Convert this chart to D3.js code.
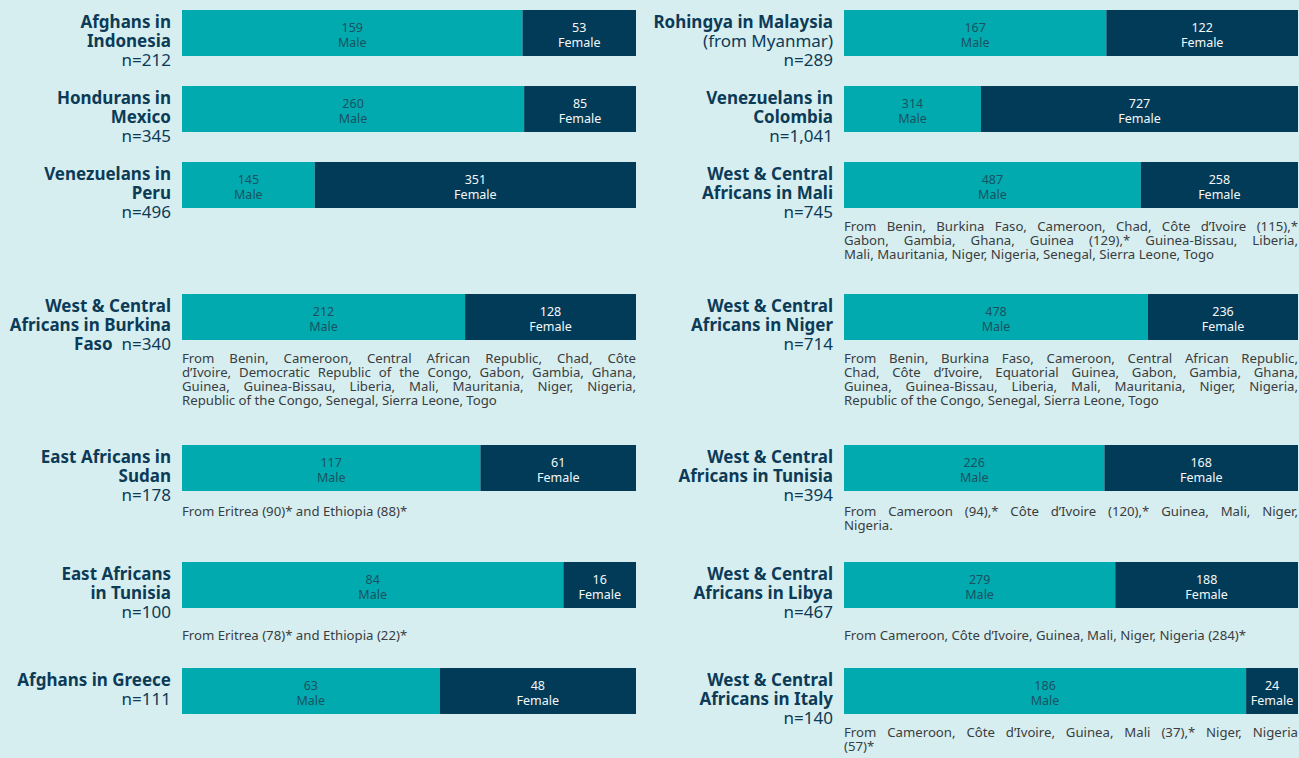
<!DOCTYPE html>
<html>
<head>
<meta charset="utf-8">
<script src="https://cdn.jsdelivr.net/npm/d3@7"></script>
<style>
  body { margin: 0; background: #d7eef0; }
  svg { display: block; font-family: "Noto Sans", sans-serif; }
</style>
</head>
<body>
<div class="chart"></div>
<script>
var totalWidth = 1299;
var totalHeight = 758;

// DATA STUFF
var titles = [
  ["Afghans in", "Indonesia"],
  ["Hondurans in", "Mexico"],
  ["Venezuelans in", "Peru"],
  ["West & Central", "Africans in Burkina", "Faso"],
  ["East Africans in", "Sudan"],
  ["East Africans", "in Tunisia"],
  ["Afghans in Greece"],
  ["Rohingya in Malaysia"],
  ["Venezuelans in", "Colombia"],
  ["West & Central", "Africans in Mali"],
  ["West & Central", "Africans in Niger"],
  ["West & Central", "Africans in Tunisia"],
  ["West & Central", "Africans in Libya"],
  ["West & Central", "Africans in Italy"]
];
var subtitles = ["", "", "", "", "", "", "", "(from Myanmar)", "", "", "", "", "", ""];
var nLabels = ["212", "345", "496", "340", "178", "100", "111",
               "289", "1,041", "745", "714", "394", "467", "140"];
var nInline = [false, false, false, true, false, false, false,
               false, false, false, false, false, false, false];
var maleCounts = [159, 260, 145, 212, 117, 84, 63, 167, 314, 487, 478, 226, 279, 186];
var femaleCounts = [53, 85, 351, 128, 61, 16, 48, 122, 727, 258, 236, 168, 188, 24];
var notes = [
  [], [], [],
  ["From Benin, Cameroon, Central African Republic, Chad, Côte",
   "d’Ivoire, Democratic Republic of the Congo, Gabon, Gambia, Ghana,",
   "Guinea, Guinea-Bissau, Liberia, Mali, Mauritania, Niger, Nigeria,",
   "Republic of the Congo, Senegal, Sierra Leone, Togo"],
  ["From Eritrea (90)* and Ethiopia (88)*"],
  ["From Eritrea (78)* and Ethiopia (22)*"],
  [],
  [], [],
  ["From Benin, Burkina Faso, Cameroon, Chad, Côte d’Ivoire (115),*",
   "Gabon, Gambia, Ghana, Guinea (129),* Guinea-Bissau, Liberia,",
   "Mali, Mauritania, Niger, Nigeria, Senegal, Sierra Leone, Togo"],
  ["From Benin, Burkina Faso, Cameroon, Central African Republic,",
   "Chad, Côte d’Ivoire, Equatorial Guinea, Gabon, Gambia, Ghana,",
   "Guinea, Guinea-Bissau, Liberia, Mali, Mauritania, Niger, Nigeria,",
   "Republic of the Congo, Senegal, Sierra Leone, Togo"],
  ["From Cameroon (94),* Côte d’Ivoire (120),* Guinea, Mali, Niger,",
   "Nigeria."],
  ["From Cameroon, Côte d’Ivoire, Guinea, Mali, Niger, Nigeria (284)*"],
  ["From Cameroon, Côte d’Ivoire, Guinea, Mali (37),* Niger, Nigeria",
   "(57)*"]
];
var genderLabels = ["Male", "Female"];

// LAYOUT
var barWidth = 454;
var barHeight = 46;
var rowTops = [10, 86, 162, 294, 445, 562, 668];
var noteGaps = [23, 23, 23, 23, 25, 32, 23];
var lineHeight = 14;
var noteSize = 13.2;

var colors = { male: "#01aaae", female: "#023b57", title: "#0c3b57", note: "#3a3d40" };

var rows = titles.map(function(t, i) {
  return {
    title: t, sub: subtitles[i], n: nLabels[i], inline: nInline[i],
    male: maleCounts[i], female: femaleCounts[i], note: notes[i],
    col: i < 7 ? 0 : 1, row: i % 7
  };
});

var colScale = d3.scaleOrdinal().domain([0, 1]).range([182, 844]);
var rowScale = d3.scaleOrdinal().domain(d3.range(7)).range(rowTops);

var svg = d3.select(".chart")
  .append("svg")
  .attr("width", totalWidth)
  .attr("height", totalHeight);

var groups = svg.selectAll("g.row")
  .data(rows)
  .enter()
  .append("g")
  .attr("class", "row")
  .attr("transform", function(d) {
    return "translate(" + colScale(d.col) + "," + rowScale(d.row) + ")";
  });

groups.each(function(d) {
  var g = d3.select(this);
  var x = d3.scaleLinear().domain([0, d.male + d.female]).range([0, barWidth]);

  var segs = [
    { key: "male", start: 0, value: d.male, label: genderLabels[0] },
    { key: "female", start: d.male, value: d.female, label: genderLabels[1] }
  ];

  g.selectAll("rect")
    .data(segs)
    .enter()
    .append("rect")
    .attr("x", function(s) { return x(s.start); })
    .attr("y", 0)
    .attr("width", function(s) { return x(s.start + s.value) - x(s.start); })
    .attr("height", barHeight)
    .attr("fill", function(s) { return colors[s.key]; });

  var lbl = g.selectAll("text.seg")
    .data(segs)
    .enter()
    .append("text")
    .attr("class", "seg")
    .attr("text-anchor", "middle")
    .attr("font-size", 12.5)
    .attr("fill", function(s) { return s.key == "male" ? "#1a5263" : "#f4f8fa"; });
  lbl.append("tspan")
    .attr("x", function(s) { return x(s.start + s.value / 2); })
    .attr("y", 22)
    .text(function(s) { return s.value; });
  lbl.append("tspan")
    .attr("x", function(s) { return x(s.start + s.value / 2); })
    .attr("y", 37)
    .text(function(s) { return s.label; });

  // title block
  var t = g.append("text")
    .attr("text-anchor", "end")
    .attr("font-size", 17)
    .attr("fill", colors.title);
  var lines = d.title.map(function(s) { return { text: s, bold: true }; });
  if (d.sub) lines.push({ text: d.sub, bold: false });
  if (!d.inline) lines.push({ text: "n=" + d.n, bold: false });
  lines.forEach(function(l, i) {
    t.append("tspan")
      .attr("x", -11)
      .attr("y", 17.5 + i * 19)
      .attr("font-weight", l.bold ? 700 : 400)
      .text(l.text);
    if (d.inline && i == lines.length - 1) {
      t.append("tspan").attr("font-weight", 400).text("\u00a0 n=" + d.n);
    }
  });

  // note block, every line but the last stretched to the bar width
  if (!d.note.length) return;
  var nt = g.append("text")
    .attr("class", "note")
    .attr("font-size", noteSize)
    .attr("fill", colors.note);
  d.note.forEach(function(line, i) {
    var ts = nt.append("tspan")
      .attr("x", 0)
      .attr("y", barHeight + noteGaps[d.row] + i * lineHeight)
      .text(line);
    if (i < d.note.length - 1) {
      var spaces = line.split(" ").length - 1;
      var natural = ts.node().getComputedTextLength();
      ts.style("word-spacing", ((barWidth - natural) / spaces) + "px");
    }
  });
});
</script>
</body>
</html>
